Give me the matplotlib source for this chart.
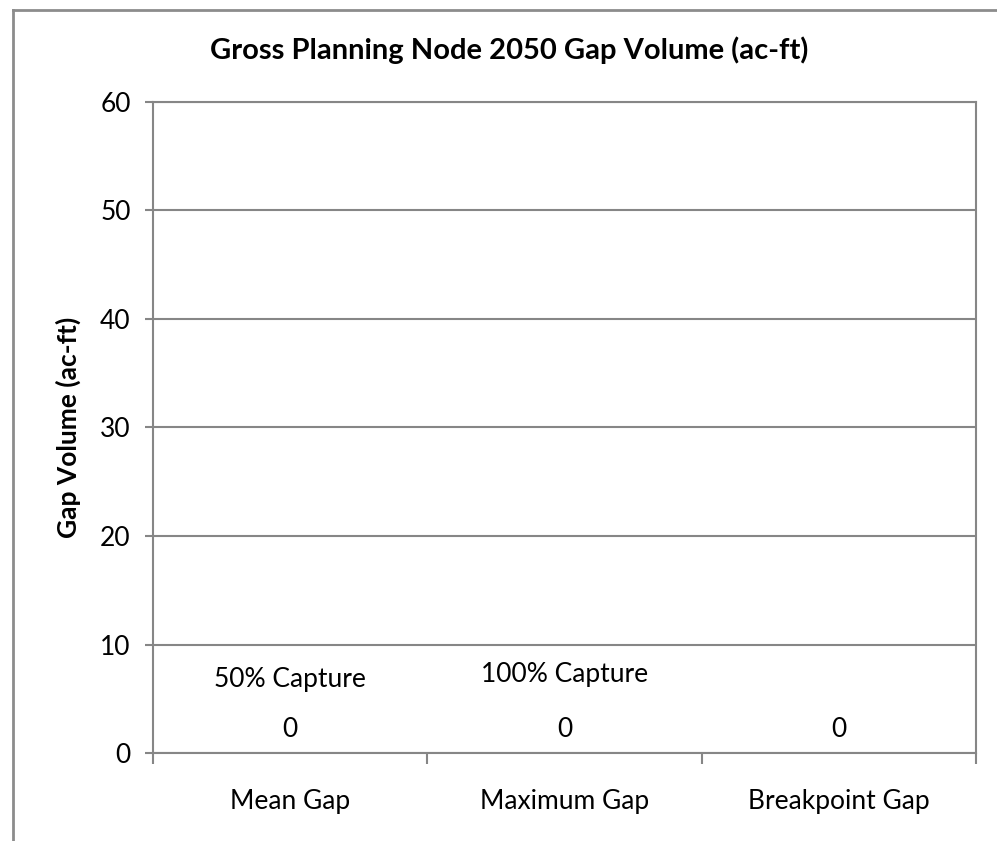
import numpy as np
import matplotlib
matplotlib.use('Agg')
import matplotlib.pyplot as plt
from matplotlib.lines import Line2D

plt.rcParams['font.family'] = ['Lato', 'DejaVu Sans']

categories = ['Mean Gap', 'Maximum Gap', 'Breakpoint Gap']
gap_values = [0, 0, 0]
capture_labels = ['50% Capture', '100% Capture', '']
y_ticks = [0, 10, 20, 30, 40, 50, 60]

grey = '#868686'
fs = 19

fig = plt.figure(figsize=(9.97, 8.41), dpi=100)
ax = fig.add_axes([0.1535, 0.1045, 0.8255, 0.7748])

x = np.arange(len(categories))
ax.bar(x, gap_values, width=0.6, color='#4f81bd')

ax.set_xlim(-0.5, len(categories) - 0.5)
ax.set_ylim(0, 60)
ax.set_yticks(y_ticks)
ax.set_xticks(x)
ax.set_xticklabels(categories, fontsize=fs)
ax.set_xticks(np.arange(len(categories) + 1) - 0.5, minor=True)
ax.tick_params(axis='x', which='major', length=0, pad=26)
ax.tick_params(axis='x', which='minor', length=8, width=1.5, color=grey)
ax.tick_params(axis='y', length=6, width=1.5, color=grey, labelsize=fs, pad=10)

ax.grid(axis='y', color=grey, linewidth=1.5)
ax.set_axisbelow(True)
for s in ax.spines.values():
    s.set_color(grey)
    s.set_linewidth(1.5)

# data labels
for xi, v, cap in zip(x, gap_values, capture_labels):
    ax.annotate(str(v), (xi, v), xytext=(0, 17), textcoords='offset points',
                ha='center', va='center', fontsize=fs)
    if cap:
        ax.annotate(cap, (xi, v), xytext=(0, 53 if xi == 0 else 56.5),
                    textcoords='offset points', ha='center', va='center',
                    fontsize=fs)

ax.set_ylabel('Gap Volume (ac-ft)', fontsize=fs, fontweight='bold', labelpad=14)
fig.text(0.511, 0.9405, 'Gross Planning Node 2050 Gap Volume (ac-ft)',
         ha='center', va='center', fontsize=21, fontweight='bold')

# outer chart border (cut off at right and bottom)
bx = 13 / 997
by = 1 - 10 / 841
fig.add_artist(Line2D([bx, bx], [0, by], transform=fig.transFigure, color='#8c8c8c', lw=2))
fig.add_artist(Line2D([bx, 1], [by, by], transform=fig.transFigure, color='#8c8c8c', lw=2))

fig.savefig('out.png', dpi=100)
